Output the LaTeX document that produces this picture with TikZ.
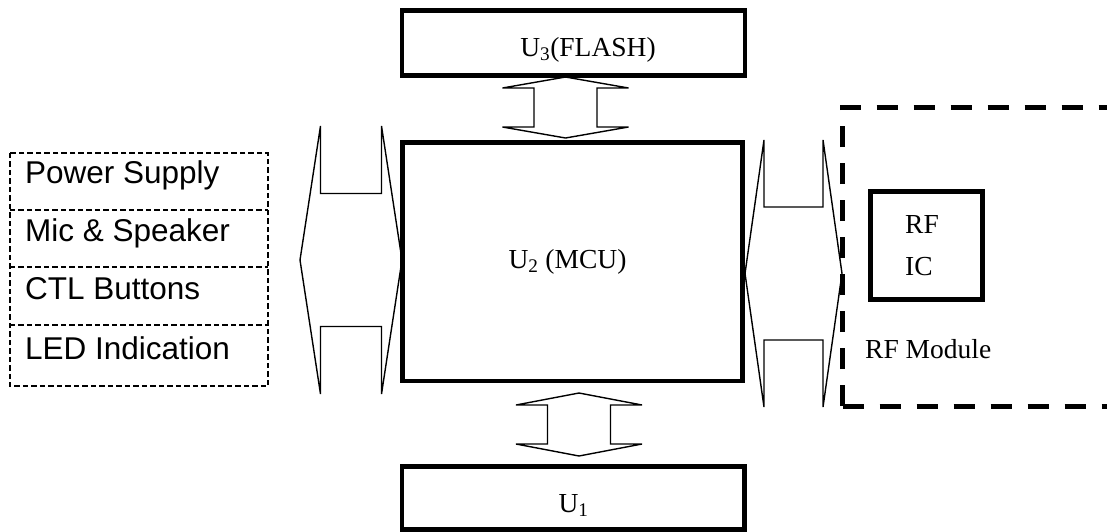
\documentclass[tikz,border=0pt]{standalone}
\usepackage{fontspec}
\setmainfont{Liberation Serif}
\setsansfont{Liberation Sans}
\newcommand\dblarrH[6]{% cx cy halflen shafthalflen shafthalfthick headhalfspan
  \draw[arrowline] (#1-#3,#2) -- (#1-#4,#2-#6) -- (#1-#4,#2-#5) -- (#1+#4,#2-#5) -- (#1+#4,#2-#6) -- (#1+#3,#2) -- (#1+#4,#2+#6) -- (#1+#4,#2+#5) -- (#1-#4,#2+#5) -- (#1-#4,#2+#6) -- cycle;}
\newcommand\dblarrV[6]{% cx cy halflen shafthalflen shafthalfthick headhalfspan
  \draw[arrowline] (#1,#2-#3) -- (#1+#6,#2-#4) -- (#1+#5,#2-#4) -- (#1+#5,#2+#4) -- (#1+#6,#2+#4) -- (#1,#2+#3) -- (#1-#6,#2+#4) -- (#1-#5,#2+#4) -- (#1-#5,#2-#4) -- (#1-#6,#2-#4) -- cycle;}
\begin{document}
\begin{tikzpicture}[x=1pt,y=-1pt,
  thickbox/.style={draw,line width=4.5pt,inner sep=0pt},
  listbox/.style={inner sep=0pt,minimum width=258pt},
  listline/.style={line width=1.8pt,dash pattern=on 5.5pt off 3pt},
  arrowline/.style={line width=1.4pt,line join=miter},
  serif/.style={font=\fontsize{27.5}{32}\selectfont,inner sep=0pt},
  sans/.style={font=\sffamily\fontsize{31.5}{36}\selectfont,inner sep=0pt,anchor=base west}]
\useasboundingbox (0,0) rectangle (1107,531);
% boxes
\node[thickbox,minimum width=343pt,minimum height=65pt] (u3) at (573.5,43) {};
\node[thickbox,minimum width=340pt,minimum height=238.5pt] (u2) at (572.5,261.75) {};
\node[thickbox,minimum width=342.5pt,minimum height=63pt] (u1) at (573.25,498) {};
\node[thickbox,minimum width=112pt,minimum height=108pt] (rfic) at (926.5,245.5) {};
% texts
\node[serif,anchor=base] (t3) at (588,56) {U\textsubscript{3}(FLASH)};
\node[serif,anchor=base] (t2) at (567.5,268) {U\textsubscript{2} (MCU)};
\node[serif,anchor=base] (t1) at (573.5,512) {U\textsubscript{1}};
\node[serif,anchor=base west] (trf) at (905,233) {RF};
\node[serif,anchor=base west] (tic) at (905,275) {IC};
\node[serif,anchor=base west] (trfm) at (865,358) {RF Module};
% left list
\node[listbox,minimum height=57pt] (ps) at (139,181.5) {};
\node[listbox,minimum height=57pt] (ms) at (139,238.5) {};
\node[listbox,minimum height=58pt] (cb) at (139,296) {};
\node[listbox,minimum height=61pt] (li) at (139,355.5) {};
\draw[listline] (ps.north west) rectangle (li.south east);
\draw[listline] (ps.south west) -- (ps.south east);
\draw[listline] (ms.south west) -- (ms.south east);
\draw[listline] (cb.south west) -- (cb.south east);
\node[sans] (tps) at (25,183) {Power Supply};
\node[sans] (tms) at (25,241) {Mic \& Speaker};
\node[sans] (tcb) at (25,299) {CTL Buttons};
\node[sans] (tli) at (25,359) {LED Indication};
% RF module dashed frame
\draw[line width=5pt,dash pattern=on 21pt off 16pt] (842.5,406) -- (842.5,107) -- (1115,107);
\draw[line width=5pt,dash pattern=on 21pt off 16pt] (842.5,406) -- (1115,406);
% double arrows
\dblarrH{351}{260}{51}{30.5}{66.5}{134}
\dblarrH{793.5}{273.5}{48.5}{29.5}{66.5}{133.5}
\dblarrV{565.5}{107.5}{30.5}{19.5}{31.5}{63}
\dblarrV{579}{424.5}{31.5}{19.5}{31.5}{63}
\end{tikzpicture}
\end{document}
